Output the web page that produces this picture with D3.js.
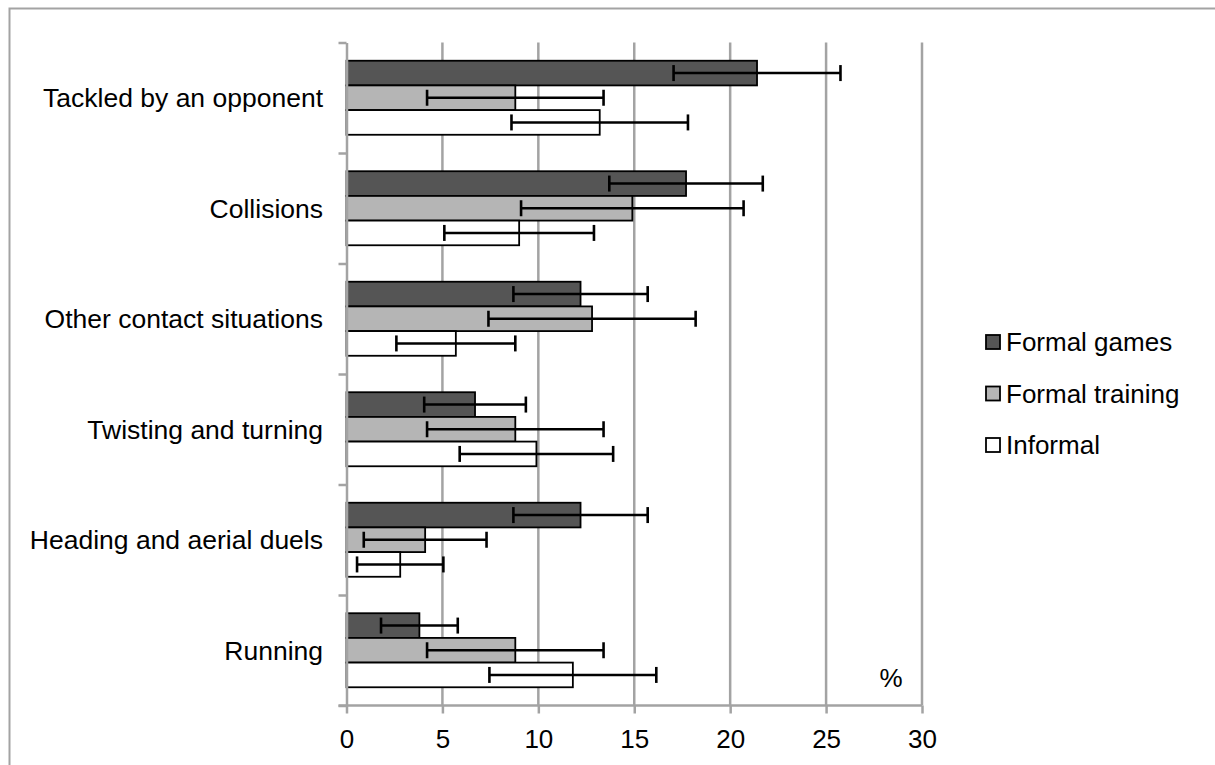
<!DOCTYPE html>
<html>
<head>
<meta charset="utf-8">
<script src="https://cdn.jsdelivr.net/npm/d3@7"></script>
<style>
  body { margin: 0; background: #fff; }
  #graf { width: 1215px; height: 765px; }
  text { font-family: 'Liberation Sans', Arial, sans-serif; fill: #000; }
</style>
</head>
<body>
<div id="graf"></div>
<script>
// I. Data
categorias = ['Tackled by an opponent', 'Collisions', 'Other contact situations',
              'Twisting and turning', 'Heading and aerial duels', 'Running']
series = ['Formal games', 'Formal training', 'Informal']

formalGames       = [21.4, 17.7, 12.2, 6.7, 12.2, 3.8]
formalGamesErr    = [4.35, 4.0, 3.5, 2.65, 3.5, 2.0]
formalTraining    = [8.8, 14.9, 12.8, 8.8, 4.1, 8.8]
formalTrainingErr = [4.6, 5.8, 5.4, 4.6, 3.2, 4.6]
informal          = [13.2, 9.0, 5.7, 9.9, 2.8, 11.8]
informalErr       = [4.6, 3.9, 3.1, 4.0, 2.25, 4.35]

xTicks = [0, 5, 10, 15, 20, 25, 30]

valores = [formalGames, formalTraining, informal]
errores = [formalGamesErr, formalTrainingErr, informalErr]

// II. Configuración
ancho_total = 1215
alto_total = 765
gris = '#a3a3a3'
rellenos = { 'Formal games': '#555555', 'Formal training': '#b5b5b5', 'Informal': '#ffffff' }

svg = d3.select('#graf').append('svg')
        .attr('width', ancho_total)
        .attr('height', alto_total)

// marco exterior
svg.append('rect')
   .attr('x', 9.5).attr('y', 8.5)
   .attr('width', 1240).attr('height', 800)
   .attr('fill', 'none')
   .attr('stroke', gris)
   .attr('stroke-width', 2)

x = d3.scaleLinear()
      .domain([0, 30])
      .range([346.5, 922])

y0 = d3.scaleBand()
       .domain(categorias)
       .range([42.5, 705.5])
       .paddingInner(0.33)
       .paddingOuter(0.165)

y1 = d3.scaleBand()
       .domain(series)
       .range([0, y0.bandwidth()])

yBordes = d3.scaleLinear()
            .domain([0, categorias.length])
            .range([42.5, 705.5])

// III. Rejilla
svg.append('g')
   .selectAll('line')
   .data(xTicks.slice(1))
   .join('line')
     .attr('x1', d => x(d)).attr('x2', d => x(d))
     .attr('y1', yBordes.range()[0]).attr('y2', yBordes.range()[1])
     .attr('stroke', gris)
     .attr('stroke-width', 2.5)

// IV. Barras
filas = []
series.forEach((s, i) => {
  categorias.forEach((c, j) => {
    filas.push({ serie: s, cat: c, valor: valores[i][j], err: errores[i][j] })
  })
})

svg.append('g')
   .selectAll('rect')
   .data(filas)
   .join('rect')
     .attr('x', x(0))
     .attr('y', d => y0(d.cat) + y1(d.serie))
     .attr('width', d => x(d.valor) - x(0))
     .attr('height', y1.bandwidth())
     .attr('fill', d => rellenos[d.serie])
     .attr('stroke', '#000')
     .attr('stroke-width', 1.8)

// barras de error
errG = svg.append('g')
          .selectAll('g')
          .data(filas)
          .join('g')
            .attr('transform', d => `translate(0, ${y0(d.cat) + y1(d.serie) + y1.bandwidth() / 2})`)
            .attr('stroke', '#000')
            .attr('stroke-width', 2.6)

errG.append('line')
    .attr('x1', d => x(d.valor - d.err))
    .attr('x2', d => x(d.valor + d.err))
errG.append('line')
    .attr('x1', d => x(d.valor - d.err)).attr('x2', d => x(d.valor - d.err))
    .attr('y1', -8).attr('y2', 8)
errG.append('line')
    .attr('x1', d => x(d.valor + d.err)).attr('x2', d => x(d.valor + d.err))
    .attr('y1', -8).attr('y2', 8)

// V. Ejes
xAxis = svg.append('g')
           .attr('transform', `translate(0, ${yBordes.range()[1]})`)
           .call(d3.axisBottom(x).tickValues(xTicks).tickSize(8).tickPadding(16).tickSizeOuter(0))
xAxis.select('.domain').attr('stroke', gris).attr('stroke-width', 2.5)
     .attr('d', `M${x(0) - 8},0H${x(30)}`)
xAxis.selectAll('.tick line').attr('stroke', gris).attr('stroke-width', 2.5)
xAxis.selectAll('.tick text')
     .style('font-size', '26px')
     .style('font-family', "'Liberation Sans', Arial, sans-serif")
     .attr('fill', '#000')

yAxis = svg.append('g')
           .attr('transform', `translate(${x(0)}, 0)`)
           .call(d3.axisLeft(yBordes).ticks(categorias.length).tickSize(8).tickFormat('').tickSizeOuter(0))
yAxis.select('.domain').attr('stroke', gris).attr('stroke-width', 2.5)
yAxis.selectAll('.tick line').attr('stroke', gris).attr('stroke-width', 2.5)

// etiquetas de categoría
svg.append('g')
   .selectAll('text')
   .data(categorias)
   .join('text')
     .attr('x', 323)
     .attr('y', d => y0(d) + y0.bandwidth() / 2)
     .attr('dy', '0.35em')
     .attr('text-anchor', 'end')
     .style('font-size', '26.5px')
     .text(d => d)

svg.append('text')
   .attr('x', 891)
   .attr('y', 687)
   .attr('text-anchor', 'middle')
   .style('font-size', '26px')
   .text('%')

// VI. Leyenda
leyenda = svg.append('g')
             .selectAll('g')
             .data(series)
             .join('g')
               .attr('transform', (d, i) => `translate(986, ${342 + i * 51.5})`)

leyenda.append('rect')
       .attr('x', 0).attr('y', -7)
       .attr('width', 14).attr('height', 14)
       .attr('fill', d => rellenos[d])
       .attr('stroke', '#000')
       .attr('stroke-width', 1.8)

leyenda.append('text')
       .attr('x', 20)
       .attr('dy', '0.35em')
       .style('font-size', '26px')
       .text(d => d)
</script>
</body>
</html>
